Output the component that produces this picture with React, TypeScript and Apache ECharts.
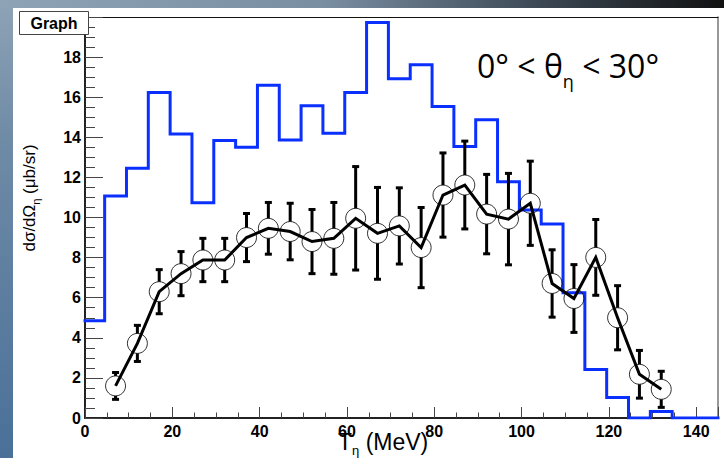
import React, { useEffect, useRef } from "react";
import * as echarts from "echarts";

// Measured data points (T_eta in MeV, dσ/dΩ in μb/sr, symmetric error)
const xPoints = [7, 12, 17, 22, 27, 32, 37, 42, 47, 52, 57, 62, 67, 72, 77, 82, 87, 92, 97, 102, 107, 112, 117, 122, 127, 132];
const yPoints = [1.6, 3.72, 6.3, 7.2, 7.88, 7.88, 9.0, 9.46, 9.3, 8.8, 8.96, 9.96, 9.21, 9.58, 8.5, 11.12, 11.62, 10.17, 9.92, 10.71, 6.71, 5.96, 8.01, 5.0, 2.18, 1.43];
const yErrors = [0.67, 0.9, 1.1, 1.1, 1.08, 1.08, 1.2, 1.29, 1.41, 1.6, 1.79, 2.58, 2.29, 1.9, 2.0, 2.1, 2.19, 1.98, 2.28, 2.1, 1.68, 1.69, 1.89, 1.6, 1.19, 0.9];

// Blue histogram: lower bin edges and bin contents
const histLowEdges = [0, 4.5, 9.5, 14.5, 19.5, 24.5, 29.5, 34.5, 39.5, 44.5, 49.5, 54.5, 59.5, 64.5, 69.5, 74.5, 79.5, 84.5, 89.5, 94.5, 99.5, 104.5, 109.5, 114.5, 119.5, 124.5, 129.5, 134.5, 139.5];
const histValues = [4.85, 11.07, 12.46, 16.23, 14.17, 10.74, 13.84, 13.5, 16.6, 13.86, 15.57, 14.2, 16.24, 19.73, 16.92, 17.62, 15.53, 13.54, 14.87, 11.78, 10.37, 9.68, 6.25, 2.42, 1.02, 0, 0.33, 0, 0];

const X_MIN = 0;
const X_MAX = 145;
const Y_MIN = 0;
const Y_MAX = 20;
const X_INTERVAL = 20;
const Y_INTERVAL = 2;

const TITLE_TEXT = "Graph";
const ANGLE_TEXT_A = "0° < θ";
const ANGLE_TEXT_SUB = "η";
const ANGLE_TEXT_B = " < 30°";

export default function App() {
  const ref = useRef<HTMLDivElement>(null);

  useEffect(() => {
    if (!ref.current) return;
    const chart = echarts.init(ref.current, undefined, { renderer: "svg" });

    const histData: number[][] = [];
    histLowEdges.forEach((lo, i) => {
      const hi = i + 1 < histLowEdges.length ? histLowEdges[i + 1] : X_MAX;
      histData.push([lo, histValues[i]]);
      histData.push([hi, histValues[i]]);
    });

    const pointData = xPoints.map((x, i) => [x, yPoints[i]]);
    const errData = xPoints.map((x, i) => [x, yPoints[i], yErrors[i]]);

    const tickFont = { fontFamily: "Liberation Sans", fontWeight: "bold" as const, fontSize: 16, color: "#000" };
    const R = 10;

    chart.setOption({
      animation: false,
      grid: { left: 85, right: 6, top: 17, bottom: 40, containLabel: false },
      graphic: [
        {
          type: "rect",
          z: -5,
          shape: { x: 0, y: 0, width: 13, height: 458 },
          style: {
            fill: {
              type: "linear", x: 0, y: 0, x2: 0, y2: 1,
              colorStops: [
                { offset: 0, color: "#8ea3b6" },
                { offset: 0.3, color: "#6f8ba6" },
                { offset: 1, color: "#4a7099" },
              ],
            },
          },
          silent: true,
        },
        {
          type: "rect",
          z: -5,
          shape: { x: 0, y: 0, width: 724, height: 8 },
          style: {
            fill: {
              type: "linear", x: 0, y: 0, x2: 1, y2: 0,
              colorStops: [
                { offset: 0, color: "#8ea3b6" },
                { offset: 0.45, color: "#7a8ea2" },
                { offset: 0.75, color: "#3b4753" },
                { offset: 1, color: "#111111" },
              ],
            },
          },
          silent: true,
        },
        {
          type: "group",
          z: 20,
          children: [
            {
              type: "rect",
              z: 20,
              shape: { x: 19.5, y: 11.5, width: 69, height: 23 },
              style: { fill: "#fff", stroke: "#444", lineWidth: 1 },
            },
            {
              type: "text",
              z: 21,
              x: 54,
              y: 23,
              style: {
                text: TITLE_TEXT,
                fontFamily: "Liberation Sans",
                fontWeight: "bold",
                fontSize: 16,
                fill: "#000",
                align: "center",
                verticalAlign: "middle",
              },
            },
          ],
        },
        {
          type: "text",
          z: 20,
          x: 477,
          y: 49,
          style: {
            text: `{a|${ANGLE_TEXT_A}}{b|${ANGLE_TEXT_SUB}}{a|${ANGLE_TEXT_B}}`,
            align: "left",
            verticalAlign: "top",
            rich: {
              a: { fontFamily: "Open Sans", fontSize: 32, lineHeight: 41, verticalAlign: "top", fill: "#000" },
              b: { fontFamily: "Open Sans", fontSize: 18, lineHeight: 18, verticalAlign: "bottom", fill: "#000" },
            },
          },
        },
        {
          type: "text",
          z: 20,
          x: 31,
          y: 198,
          rotation: Math.PI / 2,
          style: {
            text: "{a|dσ/dΩ}{b|η}{a| (μb/sr)}",
            align: "center",
            verticalAlign: "middle",
            rich: {
              a: { fontFamily: "Liberation Sans", fontSize: 17, lineHeight: 20, verticalAlign: "top", fill: "#000" },
              b: { fontFamily: "Liberation Sans", fontSize: 11, lineHeight: 11, verticalAlign: "bottom", fill: "#000" },
            },
          },
        },
        {
          type: "text",
          z: 20,
          x: 338,
          y: 430.5,
          style: {
            text: "{a|T}{b|η}{a| (MeV)}",
            align: "left",
            verticalAlign: "top",
            rich: {
              a: { fontFamily: "Liberation Sans", fontSize: 23, lineHeight: 26, verticalAlign: "top", fill: "#000" },
              b: { fontFamily: "Liberation Sans", fontSize: 13, lineHeight: 13, verticalAlign: "bottom", fill: "#000" },
            },
          },
        },
      ],
      xAxis: [
        {
          type: "value",
          min: X_MIN,
          max: X_MAX,
          interval: X_INTERVAL,
          position: "bottom",
          axisLine: { show: true, onZero: false, lineStyle: { color: "#222", width: 2 } },
          axisTick: { show: true, inside: true, length: 11, lineStyle: { color: "#444", width: 1 } },
          minorTick: { show: true, splitNumber: 4, length: 5.5, lineStyle: { color: "#444", width: 1 } },
          axisLabel: {
            ...tickFont,
            margin: 5,
            formatter: (v: number) => (v % X_INTERVAL === 0 ? String(v) : ""),
          },
          splitLine: { show: false },
        },
        {
          type: "value",
          min: X_MIN,
          max: X_MAX,
          position: "top",
          axisLine: { show: true, onZero: false, lineStyle: { color: "#111", width: 1 } },
          axisTick: { show: false },
          axisLabel: { show: false },
          splitLine: { show: false },
        },
      ],
      yAxis: [
        {
          type: "value",
          min: Y_MIN,
          max: Y_MAX,
          interval: Y_INTERVAL,
          position: "left",
          axisLine: { show: true, onZero: false, lineStyle: { color: "#222", width: 2 } },
          axisTick: { show: true, inside: true, length: 18, lineStyle: { color: "#444", width: 1 } },
          minorTick: { show: true, splitNumber: 4, length: 10, lineStyle: { color: "#444", width: 1 } },
          axisLabel: {
            ...tickFont,
            margin: 4,
            formatter: (v: number) => (v < Y_MAX ? String(v) : ""),
          },
          splitLine: { show: false },
        },
        {
          type: "value",
          min: Y_MIN,
          max: Y_MAX,
          position: "right",
          axisLine: { show: true, onZero: false, lineStyle: { color: "#777", width: 1.5 } },
          axisTick: { show: false },
          axisLabel: { show: false },
          splitLine: { show: false },
        },
      ],
      series: [
        {
          type: "line",
          xAxisIndex: 0,
          yAxisIndex: 0,
          data: histData,
          showSymbol: false,
          symbol: "none",
          lineStyle: { color: "#0a30ff", width: 3, join: "miter", cap: "square" },
          z: 2,
        },
        {
          type: "line",
          xAxisIndex: 0,
          yAxisIndex: 0,
          data: pointData,
          showSymbol: false,
          symbol: "none",
          lineStyle: { color: "#000", width: 3, join: "miter" },
          z: 3,
        },
        {
          type: "custom",
          xAxisIndex: 0,
          yAxisIndex: 0,
          data: errData,
          z: 4,
          renderItem: (params: any, api: any) => {
            const x = api.value(0);
            const y = api.value(1);
            const e = api.value(2);
            const c = api.coord([x, y]);
            const top = api.coord([x, y + e]);
            const bot = api.coord([x, y - e]);
            const capHalf = 3.5;
            const style = { stroke: "#000", lineWidth: 3 };
            const children: any[] = [];
            if (top[1] < c[1] - R) {
              children.push({ type: "line", shape: { x1: c[0], y1: top[1], x2: c[0], y2: c[1] - R }, style });
            }
            if (bot[1] > c[1] + R) {
              children.push({ type: "line", shape: { x1: c[0], y1: c[1] + R, x2: c[0], y2: bot[1] }, style });
            }
            children.push({ type: "line", shape: { x1: c[0] - capHalf, y1: top[1], x2: c[0] + capHalf, y2: top[1] }, style });
            children.push({ type: "line", shape: { x1: c[0] - capHalf, y1: bot[1], x2: c[0] + capHalf, y2: bot[1] }, style });
            return { type: "group", children };
          },
        },
        {
          type: "scatter",
          xAxisIndex: 0,
          yAxisIndex: 0,
          data: pointData,
          symbol: "circle",
          symbolSize: 2 * R,
          itemStyle: { color: "rgba(0,0,0,0)", borderColor: "#000", borderWidth: 1 },
          z: 5,
        },
      ],
    });

    return () => chart.dispose();
  }, []);

  return (
    <div
      ref={ref}
      style={{ position: "fixed", left: 0, top: 0, width: 724, height: 458, background: "#fff" }}
    />
  );
}
